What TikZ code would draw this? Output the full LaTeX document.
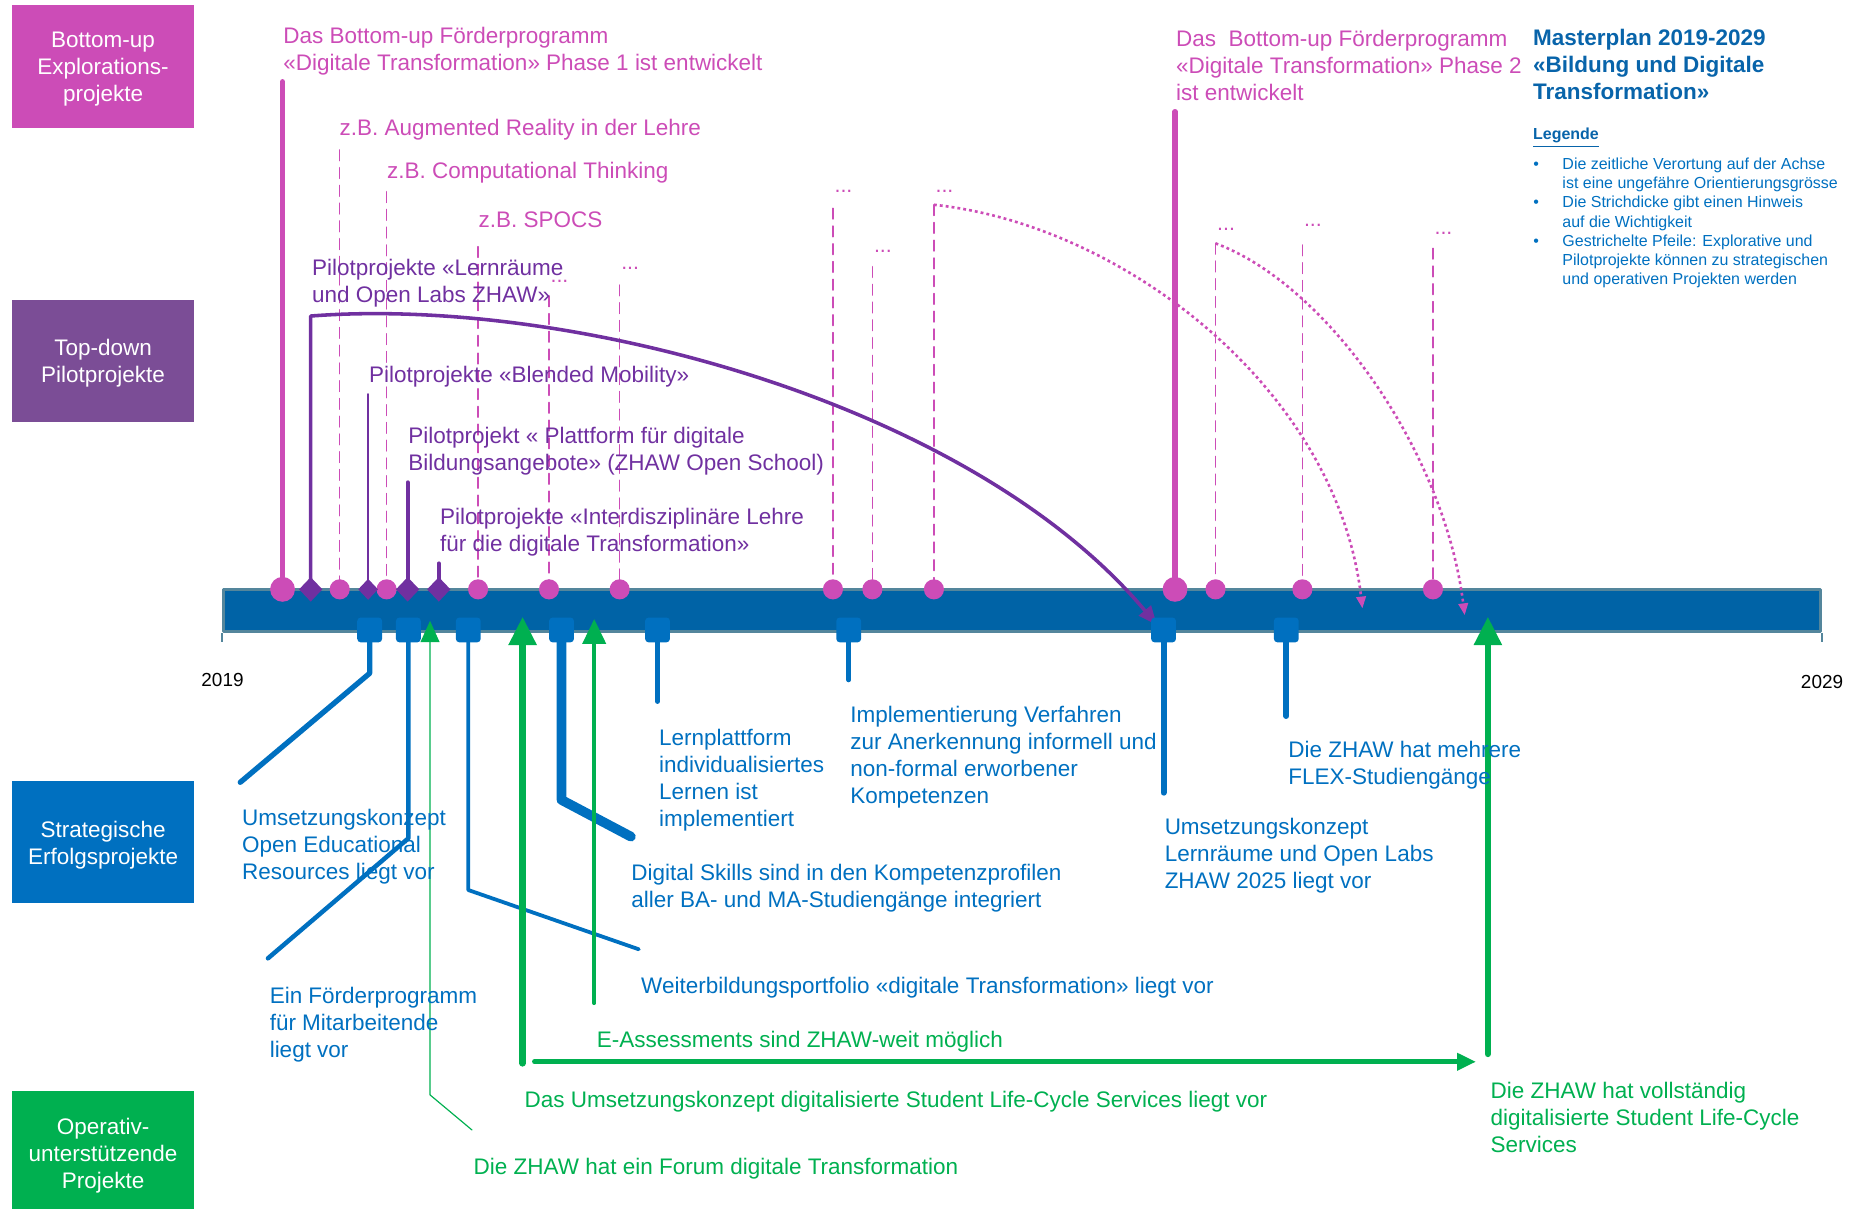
\documentclass[tikz,border=0pt]{standalone}
\usepackage{fontspec}
\setmainfont{Liberation Sans}
\usetikzlibrary{arrows.meta,shapes.geometric}
\definecolor{magc}{RGB}{204,76,183}
\definecolor{purc}{RGB}{112,48,160}
\definecolor{purbox}{RGB}{123,77,150}
\definecolor{bluc}{RGB}{0,112,192}
\definecolor{grnc}{RGB}{0,176,80}
\definecolor{barc}{RGB}{0,99,166}
\definecolor{baredge}{RGB}{84,134,156}
\definecolor{titc}{RGB}{8,100,170}
\newcommand\mystrut{\rule{0pt}{9pt}}
\newcommand\smstrut{\rule{0pt}{7pt}}
\begin{document}
\begin{tikzpicture}[x=0.5pt,y=-0.5pt,line cap=round,line join=round,
  txt/.style={anchor=north west,inner sep=0pt,align=left,font=\fontsize{9.5}{11.4}\selectfont},
  catbox/.style={fill=#1,minimum width=76.75pt,minimum height=51.6pt,inner sep=0pt},
  cattxt/.style={text=white,inner sep=0pt,align=center,font=\fontsize{9.5}{11.4}\selectfont},
  dotlbl/.style={anchor=base west,inner sep=0pt,text=magc,font=\fontsize{9}{10}\selectfont},
  smallcirc/.style={circle,fill=magc,inner sep=0pt,minimum size=8.5pt},
  bigcirc/.style={circle,fill=magc,inner sep=0pt,minimum size=10.5pt},
  pdiam/.style={diamond,fill=purc,inner sep=0pt,minimum width=10pt,minimum height=10.5pt},
  bsq/.style={rectangle,rounded corners=1.5pt,fill=bluc,inner sep=0pt,minimum size=10.5pt},
  dashv/.style={magc,line width=0.65pt,dash pattern=on 4.5pt off 3pt},
  dotarr/.style={magc,line width=1.1pt,line cap=butt,dash pattern=on 1.2pt off 1.3pt,-{Triangle[width=4pt,length=5pt]}},
  year/.style={anchor=base,inner sep=0pt,font=\fontsize{8}{9.6}\selectfont},
]
\useasboundingbox (0,0) rectangle (1568,1021);

% category boxes
\node[catbox=magc,minimum height=51.85pt] (k1) at (87.05,56.05) {};
\node[cattxt] (k1t) at (87.05,58.5) {Bottom-up\\Explorations-\\projekte};
\node[catbox=purbox] (k2) at (87.05,305) {};
\node[cattxt] (k2t) at (87.05,307) {Top-down\\Pilotprojekte};
\node[catbox=bluc] (k3) at (87.05,711.6) {};
\node[cattxt] (k3t) at (87.05,713.8) {Strategische\\Erfolgsprojekte};
\node[catbox=grnc,minimum height=49.65pt] (k4) at (87.05,971.35) {};
\node[cattxt] (k4t) at (87.05,976.5) {Operativ-\\unterstützende\\Projekte};

% timeline bar
\node[draw=baredge,fill=barc,line width=1.2pt,minimum width=674.4pt,minimum height=17.85pt,inner sep=0pt,anchor=north west] (bar) at (187.8,496.5) {};
\draw[baredge,line width=1pt,line cap=butt] (bar.south west) -- ++(0,8);
\draw[baredge,line width=1pt,line cap=butt] (bar.south east) -- ++(0,8);
\node[year] (y1) at (188,580) {2019};
\node[year] (y2) at (1539.3,581.5) {2029};

% marker positions
\coordinate (c1) at (238.7,497.9);
\coordinate (c2) at (287,497.9);
\coordinate (c3) at (326.6,497.9);
\coordinate (c4) at (403.9,497.9);
\coordinate (c5) at (463.8,497.9);
\coordinate (c6) at (523.5,497.9);
\coordinate (c7) at (703.7,497.9);
\coordinate (c8) at (737,497.9);
\coordinate (c9) at (789,497.9);
\coordinate (c10) at (992.7,497.9);
\coordinate (c11) at (1026.9,497.9);
\coordinate (c12) at (1100.3,497.9);
\coordinate (c13) at (1210.6,497.9);
\coordinate (d1) at (262.5,497.9);
\coordinate (d2) at (311,497.9);
\coordinate (d3) at (344.4,497.9);
\coordinate (d4) at (370.7,497.9);
\coordinate (s1) at (312.3,532.2);
\coordinate (s2) at (345,532.2);
\coordinate (s3) at (395.6,532.2);
\coordinate (s4) at (474.4,532.2);
\coordinate (s5) at (555.5,532.2);
\coordinate (s6) at (717,532.2);
\coordinate (s7) at (983,532.2);
\coordinate (s8) at (1086.7,532.2);

% magenta verticals
\coordinate (c1t) at (238.7,69);
\coordinate (c10t) at (992.7,94.4);
\draw[magc,line width=2.2pt] (c1t) -- (c1);
\draw[magc,line width=2.3pt] (c10t) -- (c10);
\coordinate (c2t) at (287,126.7);
\coordinate (c3t) at (326.6,162);
\coordinate (c4t) at (403.9,208.4);
\coordinate (c5t) at (463.8,250);
\coordinate (c6t) at (523.5,240.8);
\coordinate (c7t) at (703.7,176);
\coordinate (c8t) at (737,225.3);
\coordinate (c9t) at (789,173);
\coordinate (c11t) at (1026.9,205.6);
\coordinate (c12t) at (1100.3,207);
\coordinate (c13t) at (1210.6,209.8);
\foreach \i in {2,3,4,5,6,7,8,9,11,12,13} {\draw[dashv] (c\i t) -- (c\i);}

% dotted arrows
\coordinate (e1) at (1151,514);
\coordinate (e2) at (1237.4,519.7);
\draw[dotarr] (c9t) .. controls (950,190) and (1130,330) .. (e1);
\draw[dotarr] (c11t) .. controls (1120,240) and (1220,380) .. (e2);

% purple lines
\coordinate (d1t) at (262.5,267);
\coordinate (pend) at (977.4,528);
\draw[purc,line width=1.5pt,-{Triangle[width=6.5pt,length=8pt]}] (d1) -- (d1t) .. controls (480,250) and (820,340) .. (pend);
\coordinate (d2t) at (311,333);
\coordinate (d3t) at (344.4,407.5);
\coordinate (d4t) at (370.7,476);
\draw[purc,line width=0.95pt] (d2) -- (d2t);
\draw[purc,line width=1.7pt] (d3) -- (d3t);
\draw[purc,line width=1.7pt] (d4) -- (d4t);

% blue lines
\coordinate (b1a) at (312.3,568.8); \coordinate (b1b) at (203,660.9);
\coordinate (b2a) at (345,708.2); \coordinate (b2b) at (226.4,809.6);
\coordinate (b3a) at (395.6,751.9); \coordinate (b3b) at (539.7,802);
\coordinate (b4a) at (474.4,675.8); \coordinate (b4b) at (533,706.8);
\coordinate (b5a) at (555.5,592.8);
\coordinate (b6a) at (717,574.5);
\coordinate (b7a) at (983,669.7);
\coordinate (b8a) at (1086.7,604.9);
\draw[bluc,line width=2.25pt] (s1) -- (b1a) -- (b1b);
\draw[bluc,line width=1.9pt] (s2) -- (b2a) -- (b2b);
\draw[bluc,line width=1.6pt] (s3) -- (b3a) -- (b3b);
\draw[bluc,line width=4.1pt] (s4) -- (b4a) -- (b4b);
\draw[bluc,line width=1.9pt] (s5) -- (b5a);
\draw[bluc,line width=1.9pt] (s6) -- (b6a);
\draw[bluc,line width=2.5pt] (s7) -- (b7a);
\draw[bluc,line width=2.5pt] (s8) -- (b8a);

% markers
\node[bigcirc] (m1) at (c1) {};
\foreach \i in {2,3,4,5,6,7,8,9,11,12,13} {\node[smallcirc] (m\i) at (c\i) {};}
\node[bigcirc] (m10) at (c10) {};
\node[pdiam] (md1) at (d1) {};
\node[pdiam,minimum width=8.5pt,minimum height=9pt] (md2) at (d2) {};
\node[pdiam] (md3) at (d3) {};
\node[pdiam] (md4) at (d4) {};
\foreach \i in {1,...,8} {\node[bsq] (ms\i) at (s\i) {};}

% green arrows
\coordinate (g1t) at (363.3,524.5);
\coordinate (g1a) at (363.3,925);
\coordinate (g1b) at (398.7,954.6);
\coordinate (g2t) at (441.5,521);
\coordinate (g2b) at (441.5,898.3);
\coordinate (g3t) at (502,523);
\coordinate (g3b) at (502,847.6);
\coordinate (g4t) at (1257,521);
\coordinate (g4b) at (1257,890.4);
\coordinate (h1) at (451.5,897);
\coordinate (h2) at (1247,897);
\draw[grnc,line width=0.5pt,-{Triangle[width=8pt,length=9pt]}] (g1b) -- (g1a) -- (g1t);
\draw[grnc,line width=2.8pt,-{Triangle[width=11.3pt,length=12pt]}] (g2b) -- (g2t);
\draw[grnc,line width=1.5pt,-{Triangle[width=9.8pt,length=10.5pt]}] (g3b) -- (g3t);
\draw[grnc,line width=2.7pt,-{Triangle[width=11.3pt,length=12pt]}] (g4b) -- (g4t);
\draw[grnc,line width=2pt,-{Triangle[width=7pt,length=8pt]}] (h1) -- (h2);

% dots labels
\node[dotlbl] (l5) at (464.8,239) {...};
\node[dotlbl] (l6) at (524.5,227.7) {...};
\node[dotlbl] (l7) at (704.7,163) {...};
\node[dotlbl] (l8) at (738,213.6) {...};
\node[dotlbl] (l9) at (790,163) {...};
\node[dotlbl] (l11) at (1027.9,194.7) {...};
\node[dotlbl] (l12) at (1101.3,191) {...};
\node[dotlbl] (l13) at (1211.6,198) {...};

% magenta texts
\node[txt,text=magc] (t1) at (239,18.6) {\mystrut Das Bottom-up Förderprogramm\\«Digitale Transformation» Phase 1 ist entwickelt};
\node[txt,text=magc] (t2) at (286.5,96) {\mystrut z.B. Augmented Reality in der Lehre};
\node[txt,text=magc] (t3) at (326.7,132) {\mystrut z.B. Computational Thinking};
\node[txt,text=magc] (t4) at (403.9,174) {\mystrut z.B. SPOCS};
\node[txt,text=magc] (t5) at (993.3,21) {\mystrut Das\ \ Bottom-up Förderprogramm\\«Digitale Transformation» Phase 2\\ist entwickelt};

% title and legend
\node[txt,text=titc,font=\fontsize{9.5}{11.4}\selectfont\bfseries] (title) at (1294.8,20) {\mystrut Masterplan 2019-2029\\«Bildung und Digitale\\Transformation»};
\node[anchor=base west,inner sep=0pt,text=titc,font=\fontsize{6.75}{8.1}\selectfont\bfseries] (leg) at (1294.8,117.7) {\underline{Legende}};
\node[txt,text=bluc,font=\fontsize{6.75}{8.1}\selectfont] (legl) at (1295,128.8) {\smstrut\makebox[12.3pt][l]{\textbullet}Die zeitliche Verortung auf der Achse\\
\hspace*{12.3pt}ist eine ungefähre Orientierungsgrösse\\
\makebox[12.3pt][l]{\textbullet}Die Strichdicke gibt einen Hinweis\\
\hspace*{12.3pt}auf die Wichtigkeit\\
\makebox[12.3pt][l]{\textbullet}Gestrichelte Pfeile: Explorative und\\
\hspace*{12.3pt}Pilotprojekte können zu strategischen\\
\hspace*{12.3pt}und operativen Projekten werden};

% purple texts
\node[txt,text=purc] (p1) at (263.3,214.3) {\mystrut Pilotprojekte «Lernräume\\und Open Labs ZHAW»};
\node[txt,text=purc] (p2) at (311.5,304.5) {\mystrut Pilotprojekte «Blended Mobility»};
\node[txt,text=purc] (p3) at (344.7,356.5) {\mystrut Pilotprojekt « Plattform für digitale\\Bildungsangebote» (ZHAW Open School)};
\node[txt,text=purc] (p4) at (371.5,424.7) {\mystrut Pilotprojekte «Interdisziplinäre Lehre\\für die digitale Transformation»};

% blue texts
\node[txt,text=bluc] (u1) at (204.1,679) {\mystrut Umsetzungskonzept\\Open Educational\\Resources liegt vor};
\node[txt,text=bluc] (u2) at (227.5,829) {\mystrut Ein Förderprogramm\\für Mitarbeitende\\liegt vor};
\node[txt,text=bluc] (u3) at (556.4,611.4) {\mystrut Lernplattform\\individualisiertes\\Lernen ist\\implementiert};
\node[txt,text=bluc] (u4) at (533,725.4) {\mystrut Digital Skills sind in den Kompetenzprofilen\\aller BA- und MA-Studiengänge integriert};
\node[txt,text=bluc] (u5) at (541.3,821.2) {\mystrut Weiterbildungsportfolio «digitale Transformation» liegt vor};
\node[txt,text=bluc] (u6) at (718,591.7) {\mystrut Implementierung Verfahren\\zur Anerkennung informell und\\non-formal erworbener\\Kompetenzen};
\node[txt,text=bluc] (u7) at (983.6,686.6) {\mystrut Umsetzungskonzept\\Lernräume und Open Labs\\ZHAW 2025 liegt vor};
\node[txt,text=bluc] (u8) at (1088,621.8) {\mystrut Die ZHAW hat mehrere\\FLEX-Studiengänge};

% green texts
\node[txt,text=grnc] (o1) at (503.8,866.8) {\mystrut E-Assessments sind ZHAW-weit möglich};
\node[txt,text=grnc] (o2) at (442.9,916.9) {\mystrut Das Umsetzungskonzept digitalisierte Student Life-Cycle Services liegt vor};
\node[txt,text=grnc] (o3) at (399.8,973.8) {\mystrut Die ZHAW hat ein Forum digitale Transformation};
\node[txt,text=grnc] (o4) at (1259,909.9) {\mystrut Die ZHAW hat vollständig\\digitalisierte Student Life-Cycle\\Services};
\end{tikzpicture}
\end{document}
